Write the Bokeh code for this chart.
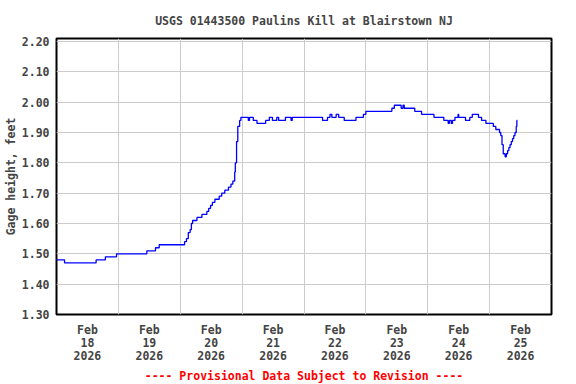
import pandas as pd
from bokeh.plotting import figure
from bokeh.models import Range1d, FixedTicker, NumeralTickFormatter
from bokeh.embed import file_html
from bokeh.resources import INLINE

# ---- data (day offset from 2026-02-18 00:00, gage height in feet) ----
day_offset = [0.00, 0.13, 0.64, 0.79, 0.97, 1.46, 1.60, 1.66, 2.07, 2.10, 2.13, 2.16, 2.18,
              2.20, 2.27, 2.35, 2.43, 2.46, 2.49, 2.52, 2.56, 2.63, 2.67, 2.72, 2.78, 2.82,
              2.85, 2.88, 2.89, 2.91, 2.93, 2.96, 2.98, 3.10, 3.12, 3.18, 3.24, 3.38, 3.44,
              3.49, 3.56, 3.59, 3.70, 3.79, 3.81, 4.30, 4.38, 4.42, 4.45, 4.52, 4.56, 4.65,
              4.84, 4.96, 5.00, 5.42, 5.46, 5.57, 5.60, 5.62, 5.79, 5.90, 6.10, 6.26, 6.33,
              6.35, 6.38, 6.40, 6.44, 6.49, 6.50, 6.61, 6.68, 6.72, 6.82, 6.87, 6.94, 7.06,
              7.10, 7.16, 7.18, 7.20, 7.22, 7.25, 7.27, 7.29, 7.31, 7.33, 7.35, 7.37, 7.39,
              7.41, 7.43, 7.44, 7.45]
gage_ft = [1.48, 1.47, 1.48, 1.49, 1.50, 1.51, 1.52, 1.53, 1.54, 1.55, 1.57, 1.58, 1.60,
           1.61, 1.62, 1.63, 1.64, 1.65, 1.66, 1.67, 1.68, 1.69, 1.70, 1.71, 1.72, 1.73,
           1.74, 1.77, 1.80, 1.87, 1.92, 1.94, 1.95, 1.94, 1.95, 1.94, 1.93, 1.94, 1.95,
           1.94, 1.95, 1.94, 1.95, 1.94, 1.95, 1.94, 1.95, 1.96, 1.95, 1.96, 1.95, 1.94,
           1.95, 1.96, 1.97, 1.98, 1.99, 1.98, 1.99, 1.98, 1.97, 1.96, 1.95, 1.94, 1.93,
           1.94, 1.93, 1.94, 1.95, 1.96, 1.95, 1.94, 1.95, 1.96, 1.95, 1.94, 1.93, 1.92,
           1.91, 1.90, 1.89, 1.86, 1.83, 1.82, 1.83, 1.84, 1.85, 1.86, 1.87, 1.88, 1.89,
           1.90, 1.92, 1.94, 1.94]
day_names = ["18", "19", "20", "21", "22", "23", "24", "25"]
y_ticks = [1.30, 1.40, 1.50, 1.60, 1.70, 1.80, 1.90, 2.00, 2.10, 2.20]

start = pd.Timestamp("2026-02-18 00:00")
times = [start + pd.Timedelta(days=d) for d in day_offset]

def ms(ts):
    return int((ts - pd.Timestamp("1970-01-01")).total_seconds() * 1000)

FONT = "DejaVu Sans Mono"
FS = "11.5px"

p = figure(frame_width=495, frame_height=276, x_axis_type="datetime",
           output_backend="svg", toolbar_location=None,
           title="USGS 01443500 Paulins Kill at Blairstown NJ",
           min_border_left=51, min_border_right=15, min_border_top=31, min_border_bottom=66)
p.x_range = Range1d(start, start + pd.Timedelta(days=8))
p.y_range = Range1d(1.30, 2.21)

p.step(times, gage_ft, mode="after", line_color="#0000ff", line_width=1.3)

p.title.align = "center"
p.title.text_font = FONT
p.title.text_font_size = FS
p.title.text_font_style = "bold"
p.title.standoff = 22

# x axis: labels at noon, grid at midnight
label_ticks = [ms(start + pd.Timedelta(hours=12 + 24 * i)) for i in range(len(day_names))]
grid_ticks = [ms(start + pd.Timedelta(days=i)) for i in range(1, 8)]
xa = p.xaxis[0]
xa.ticker = FixedTicker(ticks=label_ticks)
xa.major_label_overrides = {t: "Feb\n%s\n2026" % d for t, d in zip(label_ticks, day_names)}
xa.major_tick_line_color = None
xa.major_tick_out = 0
xa.major_tick_in = 0
xa.minor_tick_line_color = None
xa.minor_tick_out = 0
xa.axis_line_color = None
xa.major_label_standoff = 8
xa.major_label_text_font = FONT
xa.major_label_text_font_size = FS
xa.major_label_text_font_style = "bold"
xa.major_label_text_line_height = 0.95
xa.axis_label = "---- Provisional Data Subject to Revision ----"
xa.axis_label_text_color = "red"
xa.axis_label_text_font = FONT
xa.axis_label_text_font_size = FS
xa.axis_label_text_font_style = "bold"
xa.axis_label_standoff = 3
p.xgrid[0].ticker = FixedTicker(ticks=grid_ticks)

ya = p.yaxis[0]
ya.ticker = FixedTicker(ticks=y_ticks)
ya.formatter = NumeralTickFormatter(format="0.00")
ya.major_tick_line_color = None
ya.major_tick_out = 0
ya.major_tick_in = 0
ya.minor_tick_line_color = None
ya.minor_tick_out = 0
ya.axis_line_color = None
ya.major_label_standoff = 7
ya.major_label_text_font = FONT
ya.major_label_text_font_size = FS
ya.major_label_text_font_style = "bold"
ya.axis_label = "Gage height, feet"
ya.axis_label_text_font = FONT
ya.axis_label_text_font_size = FS
ya.axis_label_text_font_style = "bold"
ya.axis_label_standoff = 1

for g in (p.xgrid[0], p.ygrid[0]):
    g.grid_line_color = "#cccccc"
    g.grid_line_width = 1

p.outline_line_color = "black"
p.outline_line_width = 2
p.outline_line_alpha = 1.0
p.background_fill_color = "white"
p.border_fill_color = "white"

open("out.html", "w").write(file_html(p, INLINE))
